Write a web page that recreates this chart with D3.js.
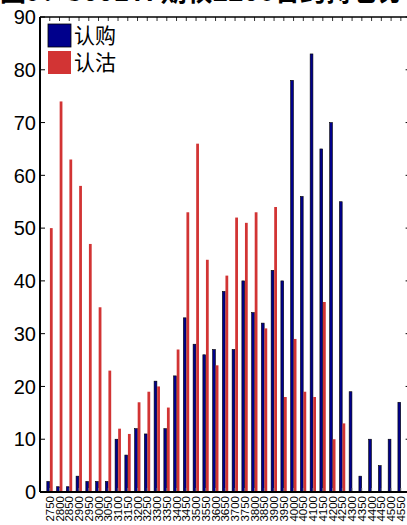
<!DOCTYPE html>
<html>
<head>
<meta charset="utf-8">
<script src="https://cdn.jsdelivr.net/npm/d3@7"></script>
<style>
  html, body { margin: 0; padding: 0; background: #fff; overflow: hidden; }
  svg { display: block; font-family: "Liberation Sans", Arial, sans-serif; }
</style>
</head>
<body>
<div id="chart"></div>
<script>
// strikes and open interest
const strikes = ["2750","2800","2850","2900","2950","3000","3050","3100","3150","3200",
  "3250","3300","3350","3400","3450","3500","3550","3600","3650","3700",
  "3750","3800","3850","3900","3950","4000","4050","4100","4150","4200",
  "4250","4300","4350","4400","4450","4500","4550"];
const calls = [2,1,1,3,2,2,2,10,7,12, 11,21,12,22,33,28,26,27,38,27,
  40,34,32,42,40,78,56,83,65,70, 55,19,3,10,5,10,17];
const puts = [50,74,63,58,47,35,23,12,11,17, 19,20,16,27,53,66,44,24,41,52,
  51,53,31,54,18,29,19,18,36,10, 13,0,0,0,0,0,0];
const seriesNames = ["认购", "认沽"];
const seriesColors = ["#00008c", "#d23434"];
const yTicks = [0,10,20,30,40,50,60,70,80,90];

const width = 407, height = 525;
const plotL = 40, plotR = 410.6, plotT = 17, plotB = 492;

const svg = d3.select("#chart")
  .append("svg")
  .attr("width", width)
  .attr("height", height);

const x = d3.scaleBand()
  .domain(strikes)
  .range([plotL, plotR])
  .paddingInner(0)
  .paddingOuter(0.5);

const x1 = d3.scaleBand()
  .domain([0, 1])
  .range([x.bandwidth() * 0.2, x.bandwidth() * 0.8])
  .paddingInner(0.1);

const y = d3.scaleLinear()
  .domain([0, 90])
  .range([plotB, plotT]);

const rows = strikes.map((s, i) => ({strike: s, vals: [calls[i], puts[i]]}));

// title, mostly cut off by the top of the frame
svg.append("text")
  .attr("x", 0)
  .attr("y", 1)
  .attr("font-family", "Noto Sans CJK SC")
  .attr("font-weight", "bold")
  .attr("font-size", 26)
  .text("图9：300ETF期权2206合约持仓分布情况");

// bars
const g = svg.append("g");
g.selectAll("g")
  .data(rows)
  .join("g")
  .attr("transform", d => `translate(${x(d.strike)},0)`)
  .selectAll("rect")
  .data(d => d.vals.map((v, k) => ({k, v})))
  .join("rect")
  .attr("x", d => x1(d.k))
  .attr("width", x1.bandwidth())
  .attr("y", d => y(d.v) - (d.v === 0 ? 1 : 0))
  .attr("height", d => Math.max(1, y(0) - y(d.v)))
  .attr("fill", d => seriesColors[d.k])
  .attr("stroke", d => d.k === 0 ? "#000" : "none")
  .attr("stroke-width", 0.6);

// axes (MATLAB style: box, ticks inside)
const axisG = svg.append("g").attr("stroke", "#000");

axisG.selectAll(".ytl")
  .data(yTicks)
  .join("line")
  .attr("x1", plotL).attr("x2", plotL + 5)
  .attr("y1", d => y(d)).attr("y2", d => y(d))
  .attr("stroke-width", 1);
axisG.selectAll(".ytr")
  .data(yTicks)
  .join("line")
  .attr("x1", plotR - 5).attr("x2", plotR)
  .attr("y1", d => y(d)).attr("y2", d => y(d))
  .attr("stroke-width", 1);

axisG.selectAll(".xtt")
  .data(strikes)
  .join("line")
  .attr("x1", d => x(d) + x.bandwidth() / 2).attr("x2", d => x(d) + x.bandwidth() / 2)
  .attr("y1", plotT).attr("y2", plotT + 4)
  .attr("stroke-width", 0.8);
axisG.selectAll(".xtb")
  .data(strikes)
  .join("line")
  .attr("x1", d => x(d) + x.bandwidth() / 2).attr("x2", d => x(d) + x.bandwidth() / 2)
  .attr("y1", plotB - 4).attr("y2", plotB)
  .attr("stroke-width", 0.8)
  .attr("stroke", "#888");

axisG.append("line").attr("x1", plotL).attr("x2", plotR).attr("y1", plotT).attr("y2", plotT).attr("stroke-width", 1.5);
axisG.append("line").attr("x1", plotL).attr("x2", plotR).attr("y1", plotB).attr("y2", plotB).attr("stroke-width", 2);
axisG.append("line").attr("x1", plotL).attr("x2", plotL).attr("y1", plotT).attr("y2", plotB).attr("stroke-width", 2);
axisG.append("line").attr("x1", plotR).attr("x2", plotR).attr("y1", plotT).attr("y2", plotB).attr("stroke-width", 2);

// y labels
svg.append("g")
  .selectAll("text")
  .data(yTicks)
  .join("text")
  .attr("x", 36)
  .attr("y", d => y(d))
  .attr("dy", "0.36em")
  .attr("text-anchor", "end")
  .attr("font-size", 20)
  .text(d => d);

// x labels, rotated
svg.append("g")
  .selectAll("text")
  .data(strikes)
  .join("text")
  .attr("transform", d => `translate(${x(d) + x.bandwidth() / 2},${plotB + 4}) rotate(-90)`)
  .attr("dy", "0.36em")
  .attr("text-anchor", "end")
  .attr("font-size", 11.5)
  .text(d => d);

// legend
const legend = svg.append("g")
  .selectAll("g")
  .data(seriesNames)
  .join("g")
  .attr("transform", (d, i) => `translate(48,${24 + i * 27})`);
legend.append("rect")
  .attr("width", 23).attr("height", 23)
  .attr("fill", (d, i) => seriesColors[i])
  .attr("stroke", (d, i) => i === 0 ? "#000" : "none")
  .attr("stroke-width", 0.8);
legend.append("text")
  .attr("x", 26)
  .attr("y", 11.5)
  .attr("dy", "0.36em")
  .attr("font-family", "Noto Sans CJK SC")
  .attr("font-size", 21)
  .text(d => d);
</script>
</body>
</html>
